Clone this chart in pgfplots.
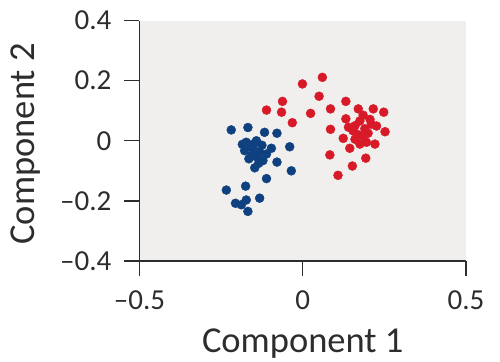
\documentclass[border=0pt]{standalone}
\usepackage{pgfplots}
\pgfplotsset{compat=1.18}
\usepackage{fontspec}
\setmainfont{Carlito}

\definecolor{pcablue}{RGB}{15,65,128}
\definecolor{pcared}{RGB}{215,25,40}
\definecolor{panel}{RGB}{240,239,237}
\definecolor{ink}{RGB}{45,45,45}

% scores of the two groups on the first two components
\pgfplotstableread{
x y
-0.219 0.036
-0.168 0.044
-0.117 0.028
-0.079 0.025
-0.173 -0.005
-0.142 0.000
-0.096 -0.025
-0.040 -0.020
-0.178 -0.033
-0.157 -0.049
-0.132 -0.038
-0.122 -0.066
-0.111 -0.044
-0.079 -0.071
-0.147 -0.090
-0.035 -0.100
-0.111 -0.126
-0.234 -0.164
-0.175 -0.151
-0.206 -0.208
-0.173 -0.197
-0.132 -0.191
-0.168 -0.235
-0.188 -0.213
-0.160 -0.020
-0.150 -0.030
-0.140 -0.055
-0.165 -0.060
-0.125 -0.015
-0.185 -0.012
-0.150 -0.010
-0.135 -0.075
}\groupA

\pgfplotstableread{
x y
-0.001 0.189
0.060 0.211
0.050 0.148
-0.062 0.131
-0.111 0.102
-0.065 0.095
-0.032 0.060
0.024 0.091
0.085 0.106
0.132 0.131
0.085 0.038
0.132 0.073
0.170 0.106
0.216 0.106
0.248 0.095
0.175 0.066
0.206 0.071
0.226 0.049
0.252 0.030
0.124 0.008
0.154 0.033
0.185 0.016
0.144 -0.025
0.175 -0.011
0.221 -0.011
0.083 -0.047
0.193 -0.058
0.152 -0.084
0.108 -0.115
0.160 0.050
0.190 0.040
0.200 0.025
0.170 0.020
0.210 0.055
0.185 0.085
0.140 0.045
0.195 -0.005
0.160 0.005
}\groupB

\begin{document}
\begin{tikzpicture}
\begin{axis}[
  at={(0,0)}, anchor=south west,
  scale only axis, width=326.5pt, height=240.5pt,
  xmin=-0.5, xmax=0.5, ymin=-0.4, ymax=0.4,
  axis lines*=left,
  axis line style={ink, line width=1.4pt},
  tick style={ink, line width=1.4pt},
  tick align=outside, major tick length=15pt,
  xtick={-0.5,0,0.5}, xticklabels={–0.5,0,0.5},
  ytick={-0.4,-0.2,0,0.2,0.4}, yticklabels={–0.4,–0.2,0,0.2,0.4},
  ticklabel style={font=\fontsize{29}{30}\selectfont, text=ink},
  xticklabel style={inner sep=0pt, yshift=-14pt},
  yticklabel style={inner sep=0pt, xshift=-13pt},
  axis background/.style={fill=panel},
  xlabel={Component 1}, ylabel={Component 2},
  label style={font=\fontsize{36.5}{40}\selectfont, text=ink},
  xlabel style={at={([yshift=-91pt]axis description cs:0.5,0)}, anchor=base},
  ylabel style={at={([xshift=-104.5pt,yshift=-3pt]axis description cs:0,0.5)}, anchor=base},
  clip=false,
]
\addplot[pcablue, only marks, mark=*, mark size=4.5pt, mark options={fill=pcablue, draw=pcablue, line width=0.4pt}] table[x=x, y=y] {\groupA};
\addplot[pcared, only marks, mark=*, mark size=4.5pt, mark options={fill=pcared, draw=pcared, line width=0.4pt}] table[x=x, y=y] {\groupB};
\end{axis}
\pgfresetboundingbox
\path (-139.5pt,-100pt) rectangle (360.5pt,261pt);
\end{tikzpicture}
\end{document}
